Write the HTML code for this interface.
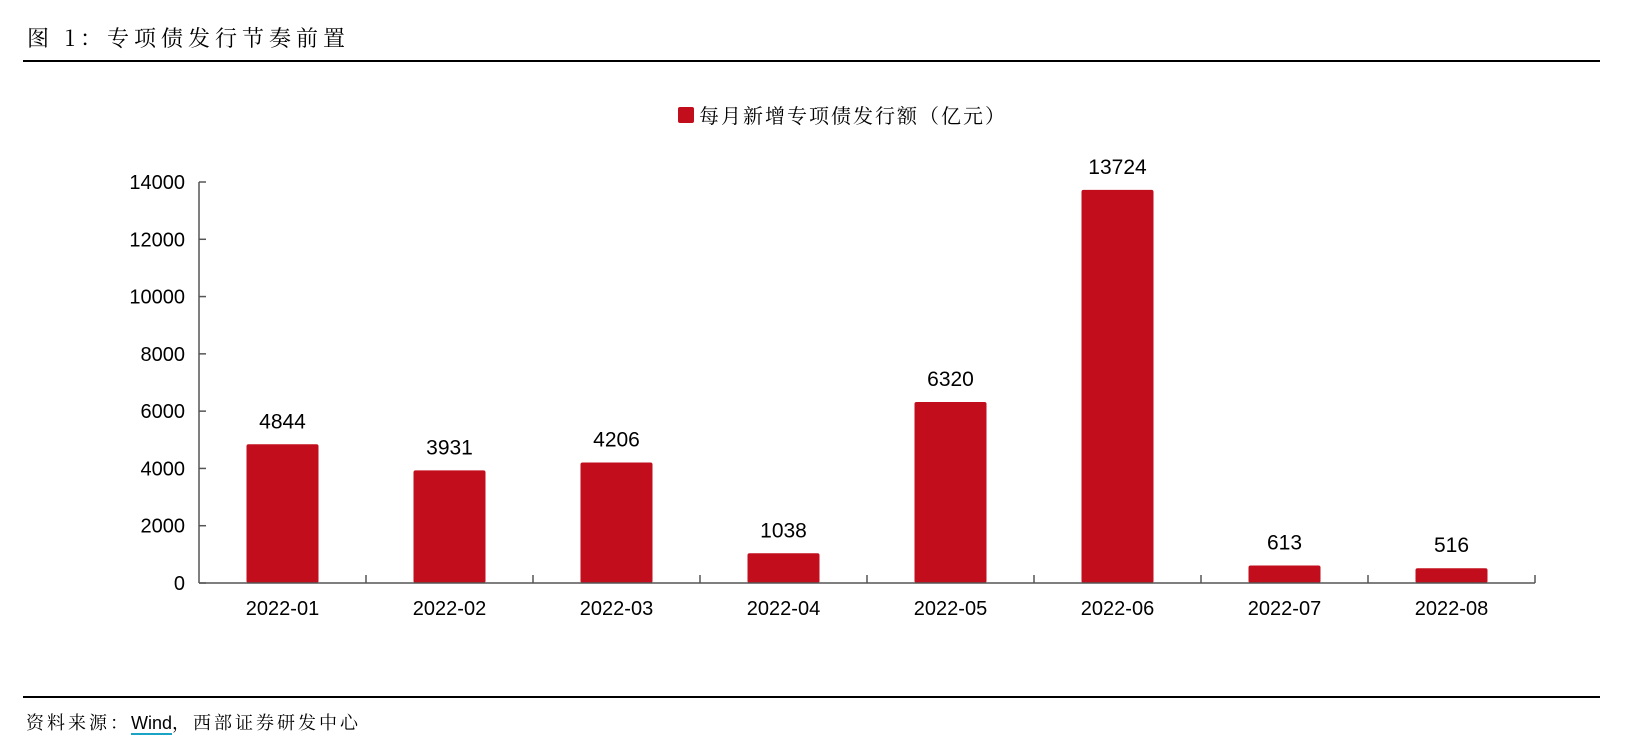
<!DOCTYPE html>
<html><head><meta charset="utf-8"><style>
body{margin:0;width:1645px;height:743px;background:#fff;overflow:hidden;font-family:"Liberation Sans","Noto Serif CJK SC",sans-serif}
.t{position:absolute;white-space:nowrap;color:#000}
</style></head><body>
<div class="t" style="left:27px;top:22px;font-size:22px;letter-spacing:5px;font-family:'Noto Serif CJK SC','Liberation Sans',serif">图 1：专项债发行节奏前置</div>
<div style="position:absolute;left:23px;top:60px;width:1577px;height:2px;background:#000"></div>
<div style="position:absolute;left:23px;top:696px;width:1577px;height:2px;background:#000"></div>
<div class="t" style="left:26px;top:709px;font-size:18px;letter-spacing:3px;font-family:'Noto Serif CJK SC',serif">资料来源：<span style="font-family:'Liberation Sans',sans-serif;letter-spacing:0;border-bottom:2px solid #1aa3c4">Wind</span>，西部证券研发中心</div>
<svg width="1645" height="743" style="position:absolute;left:0;top:0" id="chart">
<rect x="678" y="107" width="16" height="16" rx="2" fill="#c20e1c"/>
<text x="699" y="123" font-size="20" font-family="Noto Serif CJK SC, serif" letter-spacing="2">每月新增专项债发行额（亿元）</text>
<g id="g"></g>
</svg>
<script>
const categories=["2022-01","2022-02","2022-03","2022-04","2022-05","2022-06","2022-07","2022-08"];
const values=[4844,3931,4206,1038,6320,13724,613,516];
const yTicks=[0,2000,4000,6000,8000,10000,12000,14000];
const X0=199,CW=167,Y0=583,PX=(583-182)/14000,BW=72;
const xC=i=>X0+CW*i+CW/2, y=v=>Y0-v*PX;
const g=document.getElementById('g'),NS='http://www.w3.org/2000/svg';
function mk(t,a){const e=document.createElementNS(NS,t);for(const k in a)e.setAttribute(k,a[k]);g.appendChild(e);return e;}
values.forEach((v,i)=>{
 const r=mk('rect',{x:xC(i)-BW/2,y:y(v),width:BW,height:Y0-y(v),rx:2,fill:'#c20e1c'});
 
 
 const t=mk('text',{x:xC(i),y:y(v)-16,'text-anchor':'middle','font-size':21});t.textContent=v;
 
 
 const c=mk('text',{x:xC(i),y:Y0+32,'text-anchor':'middle','font-size':20});c.textContent=categories[i];
 
 
});
yTicks.forEach(v=>{
 const l=mk('line',{x1:X0,x2:X0+7,y1:y(v),y2:y(v),stroke:'#555','stroke-width':1.5});
 
 
 const t=mk('text',{x:X0-14,y:y(v)+7,'text-anchor':'end','font-size':20});t.textContent=v;
 
 
});
for(let i=1;i<=categories.length;i++){
 const l=mk('line',{x1:X0+CW*i,x2:X0+CW*i,y1:Y0,y2:Y0-8,stroke:'#555','stroke-width':1.5});
 
 
}
const ya=mk('line',{x1:X0,x2:X0,y1:y(14000),y2:Y0,stroke:'#555','stroke-width':1.5});


const xa=mk('line',{x1:X0,x2:X0+CW*categories.length,y1:Y0,y2:Y0,stroke:'#555','stroke-width':1.5});


</script>
</body></html>
